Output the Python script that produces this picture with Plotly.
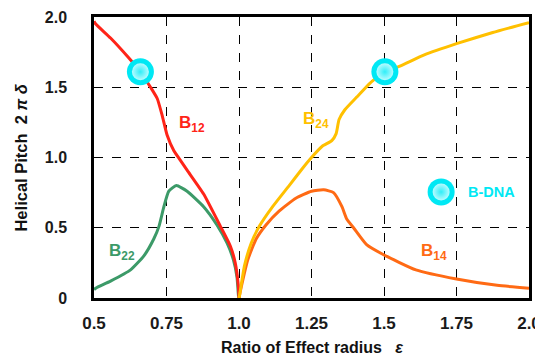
import plotly.graph_objects as go

# B12 (red)
b12_x = [0.5, 0.506, 0.557, 0.615, 0.66, 0.695, 0.718, 0.735, 0.752, 0.775, 0.798, 0.821, 0.878, 0.936, 0.97, 0.987, 0.998, 1.0]
b12_y = [1.97, 1.95, 1.85, 1.72, 1.61, 1.50, 1.42, 1.30, 1.16, 1.05, 0.98, 0.91, 0.74, 0.51, 0.37, 0.25, 0.08, 0.0]

# B22 (green)
b22_x = [0.5, 0.506, 0.557, 0.626, 0.672, 0.706, 0.724, 0.741, 0.758, 0.784, 0.821, 0.878, 0.924, 0.959, 0.981, 0.993, 0.998, 1.0]
b22_y = [0.06, 0.07, 0.12, 0.20, 0.30, 0.42, 0.51, 0.65, 0.76, 0.80, 0.76, 0.65, 0.52, 0.39, 0.27, 0.15, 0.02, 0.0]

# B24 (gold)
b24_x = [1.0, 1.002, 1.019, 1.042, 1.07, 1.116, 1.173, 1.218, 1.25, 1.287, 1.32, 1.335, 1.345, 1.365, 1.406, 1.452, 1.503, 1.555, 1.639, 1.75, 1.875, 2.0]
b24_y = [0.0, 0.02, 0.23, 0.39, 0.51, 0.65, 0.80, 0.92, 1.0, 1.08, 1.12, 1.17, 1.27, 1.34, 1.43, 1.53, 1.61, 1.65, 1.73, 1.81, 1.89, 1.96]

# B14 (orange)
b14_x = [1.0, 1.008, 1.03, 1.059, 1.093, 1.139, 1.196, 1.25, 1.292, 1.326, 1.355, 1.372, 1.395, 1.44, 1.497, 1.61, 1.75, 1.89, 2.0]
b14_y = [0.0, 0.08, 0.27, 0.42, 0.52, 0.62, 0.71, 0.76, 0.77, 0.75, 0.65, 0.56, 0.50, 0.38, 0.31, 0.20, 0.135, 0.09, 0.07]

# B-DNA markers
dna_x = [0.66, 1.503]
dna_y = [1.61, 1.61]
legend_marker = (1.697, 0.755)

x_ticks = [0.5, 0.75, 1.0, 1.25, 1.5, 1.75, 2.0]
x_ticktext = ["0.5", "0.75", "1.0", "1.25", "1.5", "1.75", "2.0"]
y_ticks = [0, 0.5, 1.0, 1.5, 2.0]
y_ticktext = ["0", "0.5", "1.0", "1.5", "2.0"]

RED = "#ff2418"
GREEN = "#3c9a68"
GOLD = "#ffc000"
ORANGE = "#ff6a14"
CYAN = "#00e8f4"

fig = go.Figure()
for xs, ys, c in [(b22_x, b22_y, GREEN), (b12_x, b12_y, RED), (b14_x, b14_y, ORANGE), (b24_x, b24_y, GOLD)]:
    fig.add_trace(go.Scatter(x=xs, y=ys, mode="lines", line=dict(color=c, width=3, shape="spline", smoothing=0.5),
                             showlegend=False, hoverinfo="skip"))

mx = dna_x + [legend_marker[0]]
my = dna_y + [legend_marker[1]]
fig.add_trace(go.Scatter(x=mx, y=my, mode="markers",
                         marker=dict(size=27, color=CYAN, line=dict(width=0)),
                         showlegend=False, hoverinfo="skip"))
fig.add_trace(go.Scatter(x=mx, y=my, mode="markers",
                         marker=dict(size=17, color="#b8fbff", gradient=dict(type="radial", color="#30eef8"),
                                     line=dict(width=0)),
                         showlegend=False, hoverinfo="skip"))

lab_font = "Liberation Sans, Arial, sans-serif"
labels = [
    ("B<sub>12</sub>", 0.785, 1.24, RED),
    ("B<sub>24</sub>", 1.215, 1.27, GOLD),
    ("B<sub>22</sub>", 0.545, 0.33, GREEN),
    ("B<sub>14</sub>", 1.62, 0.33, ORANGE),
]
for t, x, y, c in labels:
    fig.add_annotation(x=x, y=y, text="<b>" + t + "</b>", showarrow=False, xanchor="left", yanchor="middle",
                       font=dict(family=lab_font, size=17, color=c))
fig.add_annotation(x=1.782, y=0.755, text="<b>B-DNA</b>", showarrow=False, xanchor="left", yanchor="middle",
                   font=dict(family=lab_font, size=14.5, color=CYAN))

fig.add_annotation(xref="paper", yref="paper", x=0.5, y=-0.175, yanchor="middle",
                   text="<b>Ratio of Effect radius   <i>ε</i></b>", showarrow=False,
                   font=dict(family=lab_font, size=16, color="#111"))
fig.add_annotation(xref="paper", yref="paper", x=-0.17, y=0.5, xanchor="center", textangle=-90,
                   text="<b>Helical Pitch  2 <i>π δ</i></b>", showarrow=False,
                   font=dict(family=lab_font, size=16.5, color="#111"))

axis_common = dict(showline=True, linecolor="black", linewidth=2.5, mirror=True,
                   showgrid=True, gridcolor="black", gridwidth=1.3, griddash="dash",
                   zeroline=False, ticks="", automargin=False)

fig.update_layout(
    width=535, height=350,
    margin=dict(l=86, r=14, t=9, b=60, autoexpand=False),
    paper_bgcolor="white", plot_bgcolor="white",
    xaxis=dict(range=[0.5, 2.0], tickvals=x_ticks, ticktext=["<b>%s</b>" % s for s in x_ticktext],
               ticklabelstandoff=8, tickfont=dict(family=lab_font, size=17, color="#1a1a1a"), **axis_common),
    yaxis=dict(range=[0, 2.0], tickvals=y_ticks, ticktext=["<b>%s</b>" % s for s in y_ticktext],
               ticklabelstandoff=21, tickfont=dict(family=lab_font, size=16, color="#1a1a1a"), **axis_common),
)
fig.write_html("out.html")
